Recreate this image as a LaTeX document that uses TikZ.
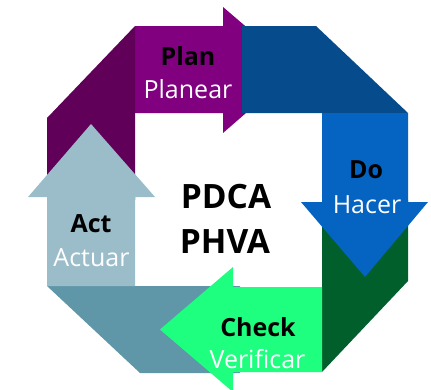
\documentclass[tikz,border=0pt]{standalone}
\usepackage{fontspec}
\setmainfont{Open Sans}
\definecolor{cplan}{HTML}{800080}
\definecolor{cplanc}{HTML}{600058}
\definecolor{cdoc}{HTML}{064B8B}
\definecolor{cdo}{HTML}{0563C1}
\definecolor{ccheckc}{HTML}{005F2B}
\definecolor{ccheck}{HTML}{1EFF80}
\definecolor{cactc}{HTML}{5F97A8}
\definecolor{cact}{HTML}{9BBDC9}
\tikzset{
  lbl/.style={anchor=base,font=\fontsize{25}{27}\selectfont\bfseries,text=black,inner sep=0pt},
  sub/.style={anchor=base,font=\fontsize{25}{27}\selectfont,text=white,inner sep=0pt},
  big/.style={anchor=base,font=\fontsize{33.5}{35}\selectfont\bfseries,text=black,inner sep=0pt}
}
\begin{document}
\begin{tikzpicture}[x=1pt,y=-1pt]
\useasboundingbox (0,0) rectangle (431,389);
\clip (0,0) rectangle (431,389);
% plan arrow
\fill[cplan] (135,26) -- (223,26) -- (223,7) -- (296,69.5) -- (223,133) -- (223,113) -- (135,113) -- cycle;
% dark blue corner
\fill[cdoc] (242,26) -- (316,26) -- (408,113) -- (242,113) -- cycle;
% dark green corner
\fill[ccheckc] (322,200) -- (408,200) -- (408,281) -- (322,372) -- cycle;
% do arrow
\fill[cdo] (322,113) -- (408,113) -- (408,202) -- (428,202) -- (365,277) -- (301,202) -- (322,202) -- cycle;
% teal corner
\fill[cactc] (47,286) -- (240,286) -- (240,373) -- (140,373) -- cycle;
% check arrow
\fill[ccheck] (322,287) -- (322,372) -- (233,372) -- (233,392) -- (160,329.5) -- (233,267) -- (233,287) -- cycle;
% dark purple corner
\fill[cplanc] (47,118) -- (135,26) -- (135,200) -- (47,200) -- cycle;
% act arrow
\fill[cact] (47,286) -- (47,197) -- (28,197) -- (91,124) -- (155,197) -- (135,197) -- (135,286) -- cycle;
% labels
\node[lbl] (plan) at (188,65) {Plan};
\node[sub] (planear) at (188,98) {Planear};
\node[lbl] (do) at (366,178) {Do};
\node[sub] (hacer) at (367,213) {Hacer};
\node[lbl] (check) at (258,336) {Check};
\node[sub] (verificar) at (257.5,368) {Verificar};
\node[lbl] (act) at (91,232) {Act};
\node[sub] (actuar) at (91.5,266) {Actuar};
\node[big] (pdca) at (226,208) {PDCA};
\node[big] (phva) at (225,253) {PHVA};
\end{tikzpicture}
\end{document}
